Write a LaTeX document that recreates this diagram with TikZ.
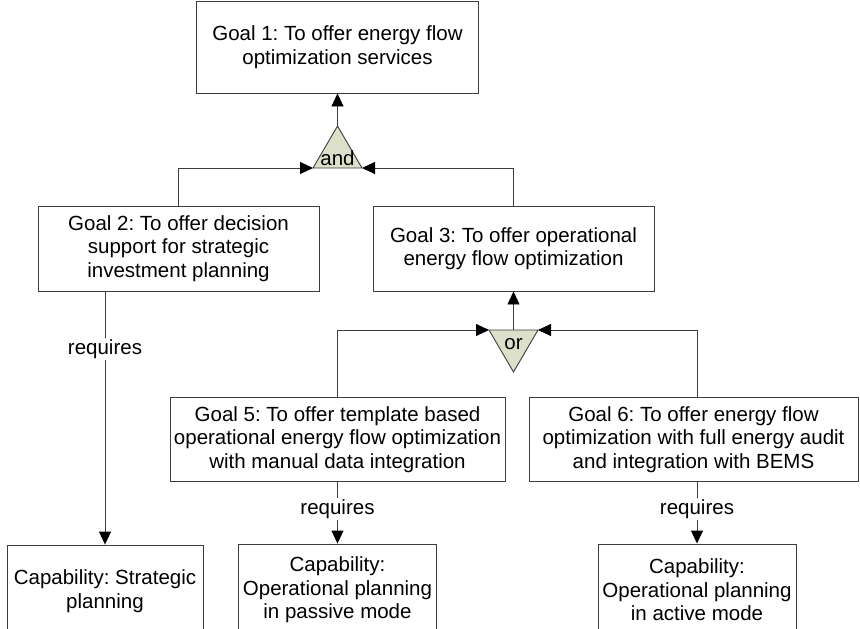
\documentclass[tikz,border=0pt]{standalone}
\usepackage{fontspec}
\setmainfont{Liberation Sans}
\usetikzlibrary{arrows.meta}
\definecolor{trifill}{RGB}{221,224,201}
\definecolor{ln}{RGB}{60,60,60}
\frenchspacing
\begin{document}
\begin{tikzpicture}[x=1pt,y=-1pt,
  box/.style={draw=ln, line width=0.9pt, align=center, inner sep=0pt, font=\fontsize{20.5}{23.5}\selectfont},
  arr/.style={draw=ln, line width=0.9pt, -{Triangle[length=13pt,width=12pt,color=black]}},
  lab/.style={fill=white, inner sep=1.5pt, font=\fontsize{20.5}{23.5}\selectfont},
  gatetxt/.style={inner sep=0pt, font=\fontsize{20.5}{23.5}\selectfont},
  gate/.style={draw=ln, line width=0.9pt, fill=trifill, line join=miter}]
\useasboundingbox (0,0) rectangle (860,629);
% goals
\node[box, minimum width=282pt, minimum height=92pt] (g1) at (337.5,47) {Goal 1: To offer energy flow\\optimization services};
\node[box, minimum width=281pt, minimum height=85pt] (g2) at (178.5,248.5) {Goal 2: To offer decision\\support for strategic\\investment planning};
\node[box, minimum width=281pt, minimum height=85pt] (g3) at (513.5,248.5) {Goal 3: To offer operational\\energy flow optimization};
\node[box, minimum width=335pt, minimum height=84pt] (g5) at (337.5,439.5) {Goal 5: To offer template based\\operational energy flow optimization\\with manual data integration};
\node[box, minimum width=329pt, minimum height=84pt] (g6) at (693.5,439.5) {Goal 6: To offer energy flow\\optimization with full energy audit\\and integration with BEMS};
% capabilities
\node[box, minimum width=196pt, minimum height=92pt] (c1) at (105,591) {Capability: Strategic\\planning};
\node[box, minimum width=198pt, minimum height=92pt] (c2) at (337.5,590) {Capability:\\Operational planning\\in passive mode};
\node[box, minimum width=198pt, minimum height=92pt] (c3) at (697,590) {Capability:\\Operational planning\\in active mode};
% and gate
\coordinate (aA) at (337.5,126);
\coordinate (aL) at (313,168);
\coordinate (aR) at (362,168);
\path[gate] (aA) -- (aL) -- (aR) -- cycle;
\node[gatetxt] (andt) at (337.5,158) {and};
% or gate
\coordinate (oL) at (489,330);
\coordinate (oR) at (538,330);
\coordinate (oT) at (513.5,330);
\coordinate (oB) at (513.5,372);
\path[gate] (oL) -- (oR) -- (oB) -- cycle;
\node[gatetxt] (ort) at (513.5,344) {or};
% connectors
\draw[arr] (aA) -- (aA |- g1.south);
\draw[arr] (g2.north) |- (aL);
\draw[arr] (g3.north) |- (aR);
\draw[arr] (oT) -- (g3.south);
\draw[arr] (g5.north) |- (oL);
\coordinate (g6top) at (697,397.5);
\draw[arr] (g6top) |- (oR);
\draw[arr] (c1.north |- g2.south) -- node[lab, pos=0.228] (r1) {requires} (c1.north);
\draw[arr] (g5.south) -- node[lab, pos=0.44] (r2) {requires} (c2.north);
\draw[arr] (c3.north |- g6.south) -- node[lab, pos=0.44] (r3) {requires} (c3.north);
\end{tikzpicture}
\end{document}
